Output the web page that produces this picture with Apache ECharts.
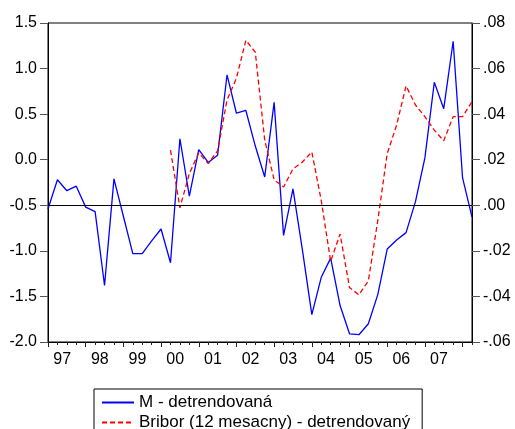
<!DOCTYPE html>
<html>
<head>
<meta charset="utf-8">
<script src="https://cdn.jsdelivr.net/npm/echarts@6/dist/echarts.min.js"></script>
<style>
  html, body { margin: 0; padding: 0; background: #fff; }
  #chart { width: 515px; height: 429px; }
</style>
</head>
<body>
<div id="chart"></div>
<script>
// Quarterly observations 1997Q1 .. 2008Q2 (46 quarters)
const yearLabels = ['97', '98', '99', '00', '01', '02', '03', '04', '05', '06', '07'];

// M - detrendovaná (left axis)
const mDetrend = [
  -0.54, -0.22, -0.34, -0.29, -0.52, -0.57, -1.38, -0.21,
  -0.62, -1.03, -1.03, -0.89, -0.76, -1.13, 0.23, -0.40,
  0.11, -0.03, 0.05, 0.93, 0.51, 0.54, 0.15, -0.19,
  0.63, -0.83, -0.32, -0.99, -1.70, -1.29, -1.08, -1.60,
  -1.91, -1.92, -1.80, -1.48, -0.98, -0.88, -0.80, -0.46,
  0.02, 0.85, 0.56, 1.30, -0.20, -0.63
];

// Bribor (12 mesacny) - detrendovaný (right axis)
const briborDetrend = [
  null, null, null, null, null, null, null, null,
  null, null, null, null, null, 0.0242, -0.0011, 0.0139,
  0.0230, 0.0183, 0.0239, 0.0462, 0.0558, 0.0724, 0.0672, 0.0286,
  0.0112, 0.0080, 0.0160, 0.0190, 0.0234, 0.0021, -0.0246, -0.0126,
  -0.0361, -0.0393, -0.0332, -0.0067, 0.0227, 0.0352, 0.0524, 0.0440,
  0.0389, 0.0330, 0.0283, 0.0389, 0.0389, 0.0455
];

const nObs = mDetrend.length;
const lastIdx = nObs - 1;
const yearTicks = yearLabels.map((_, k) => 4 * k).concat([4 * yearLabels.length]);
const yearLabelPos = yearLabels.map((_, k) => 4 * k + 1.5);

const font = '"Liberation Sans", Arial, sans-serif';
const chart = echarts.init(document.getElementById('chart'), null, { renderer: 'canvas' });

chart.setOption({
  animation: false,
  backgroundColor: '#fff',
  textStyle: { fontFamily: font },
  grid: {
    left: 48, top: 23, width: 424, height: 319,
    show: true, borderColor: '#000', borderWidth: 1, backgroundColor: 'transparent'
  },
  legend: {
    orient: 'vertical',
    left: 94, top: 389, height: 60,
    padding: [5, 12, 5, 7],
    borderColor: '#000', borderWidth: 1, borderRadius: 0,
    itemWidth: 32, itemHeight: 14, itemGap: 3,
    itemStyle: { opacity: 0 },
    textStyle: { fontSize: 17, color: '#000', fontFamily: font, lineHeight: 16 },
    data: ['M - detrendovaná', 'Bribor (12 mesacny) - detrendovaný']
  },
  xAxis: [
    {
      type: 'value', position: 'bottom', min: 0, max: lastIdx, interval: 1,
      axisLine: { show: true, onZero: false, lineStyle: { color: '#000', width: 1 } },
      axisTick: { show: true, inside: false, length: 3, lineStyle: { color: '#222' } },
      axisLabel: { show: false },
      splitLine: { show: false }
    },
    {
      type: 'value', position: 'bottom', offset: 0, min: 0, max: lastIdx,
      axisLine: { show: false, onZero: false },
      axisTick: { show: true, inside: false, length: 5, customValues: yearTicks, lineStyle: { color: '#222' } },
      axisLabel: {
        show: true, customValues: yearLabelPos, margin: 10,
        fontSize: 16, color: '#000', fontFamily: font,
        formatter: v => yearLabels[Math.round((v - 1.5) / 4)]
      },
      splitLine: { show: false }
    }
  ],
  yAxis: [
    {
      type: 'value', position: 'left', min: -2, max: 1.5, interval: 0.5,
      axisLine: { show: true, onZero: false, lineStyle: { color: '#000', width: 1 } },
      axisTick: { show: true, inside: false, length: 8, lineStyle: { color: '#555' } },
      axisLabel: {
        margin: 11, fontSize: 16, color: '#000', fontFamily: font,
        formatter: v => v.toFixed(1)
      },
      splitLine: { show: false }
    },
    {
      type: 'value', position: 'right', min: -0.06, max: 0.08, interval: 0.02,
      axisLine: { show: true, onZero: false, lineStyle: { color: '#000', width: 1 } },
      axisTick: { show: true, inside: false, length: 8, lineStyle: { color: '#555' } },
      axisLabel: {
        margin: 11, fontSize: 16, color: '#000', fontFamily: font,
        formatter: v => {
          const s = Math.abs(v) < 1e-9 ? '0.00' : v.toFixed(2);
          return s.replace('0.', '.');
        }
      },
      splitLine: { show: false }
    }
  ],
  series: [
    {
      name: 'M - detrendovaná',
      type: 'line',
      xAxisIndex: 0, yAxisIndex: 0,
      symbol: 'none',
      color: '#0000ff',
      lineStyle: { color: '#0000ff', width: 1.3 },
      data: mDetrend.map((v, i) => [i, v]),
      z: 3
    },
    {
      name: 'Bribor (12 mesacny) - detrendovaný',
      type: 'line',
      xAxisIndex: 0, yAxisIndex: 1,
      symbol: 'none',
      color: '#ff0000',
      connectNulls: false,
      lineStyle: { color: '#ff0000', width: 1.3, type: [5, 3] },
      data: briborDetrend.map((v, i) => [i, v]),
      markLine: {
        silent: true,
        symbol: 'none',
        label: { show: false },
        lineStyle: { color: '#000', width: 1, type: 'solid' },
        data: [{ yAxis: 0 }]
      },
      z: 4
    }
  ]
});
</script>
</body>
</html>
